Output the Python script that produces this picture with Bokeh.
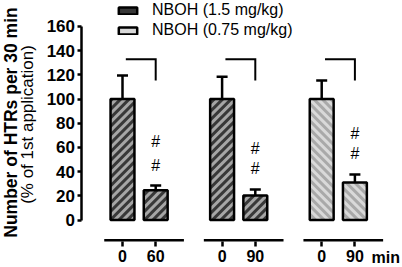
from bokeh.plotting import figure
from bokeh.models import (Range1d, FixedTicker, Legend, LegendItem,
                          Whisker, TeeHead, ColumnDataSource)
from bokeh.core.properties import value
from bokeh.embed import file_html
from bokeh.resources import INLINE
import math

# ---------------- data ----------------
positions = [0, 1, 3, 4, 6, 7]
tick_labels = ["0", "60", "0", "90", "0", "90"]
means = [100, 24.5, 100, 20.3, 100, 31.0]
sems = [19.5, 4.1, 18.5, 4.9, 15.3, 6.6]
doses = ["NBOH (1.5 mg/kg)"] * 4 + ["NBOH (0.75 mg/kg)"] * 2
dose_order = ["NBOH (1.5 mg/kg)", "NBOH (0.75 mg/kg)"]
y_ticks = [0, 20, 40, 60, 80, 100, 120, 140, 160]
unit_label = "min"
y_label_1 = "Number of HTRs per 30 min"
y_label_2 = "(% of 1st application)"
# pairs compared (first bar, second bar) and significance marks
pairs = [(0, 1), (3, 4), (6, 7)]
sig_y = [[45, 65], [42.6, 59.1], [55, 71.5]]
bracket_top = 133
bracket_low = 115.3

FONT = "Liberation Sans"
W, H = 402, 267
PX_Y = 1.2094   # pixels per y unit
PX_X = 33.2     # pixels per x unit
X0_PX = 122     # pixel of x = 0
Y0_PX = 219.5   # pixel of y = 0
BAR_W = 0.72


def xd(px):
    return (px - X0_PX) / PX_X


def yd(py):
    return (Y0_PX - py) / PX_Y


def clip_half(poly, g):
    out = []
    n = len(poly)
    for k in range(n):
        a, b = poly[k], poly[(k + 1) % n]
        ga, gb = g(a), g(b)
        if ga >= 0:
            out.append(a)
        if ga * gb < 0:
            t = ga / (ga - gb)
            out.append((a[0] + (b[0] - a[0]) * t, a[1] + (b[1] - a[1]) * t))
    return out


def stripes(x, top, direction, period=8.5, width=3.0):
    """diagonal stripe polygons inside a bar, computed in screen pixels"""
    xl = X0_PX + (x - BAR_W / 2) * PX_X
    xr = X0_PX + (x + BAR_W / 2) * PX_X
    yt = Y0_PX - top * PX_Y
    yb = Y0_PX
    rect = [(xl, yt), (xr, yt), (xr, yb), (xl, yb)]
    if direction == "/":
        f = lambda q: q[0] + q[1]
    else:
        f = lambda q: q[0] - q[1]
    vals = [f(q) for q in rect]
    lo, hi = min(vals), max(vals)
    bw = width * math.sqrt(2)
    xs, ys = [], []
    c = math.floor(lo / period) * period
    while c < hi:
        poly = clip_half(rect, lambda q, c=c: f(q) - c)
        poly = clip_half(poly, lambda q, c=c: c + bw - f(q)) if poly else []
        if len(poly) >= 3:
            xs.append([xd(q[0]) for q in poly])
            ys.append([yd(q[1]) for q in poly])
        c += period
    return xs, ys


p = figure(width=W, height=H, output_backend="svg", toolbar_location=None,
           x_range=Range1d(xd(0), xd(W)), y_range=Range1d(yd(H), yd(0)),
           min_border=0)
p.outline_line_color = None
p.grid.visible = False
p.background_fill_color = "white"
p.border_fill_color = "white"

# bars
styles = {
    "NBOH (1.5 mg/kg)": dict(fill="#383838", stripe="#a6a6a6", dir="/"),
    "NBOH (0.75 mg/kg)": dict(fill="#d9d9d9", stripe="#a9a9a9", dir="\\"),
}
items = []
for dose in dose_order:
    idx = [i for i, d in enumerate(doses) if d == dose]
    st = styles[dose]
    src = ColumnDataSource(dict(x=[positions[i] for i in idx], top=[means[i] for i in idx]))
    r0 = p.vbar(x="x", top="top", bottom=0, width=BAR_W, source=src,
                fill_color=st["fill"], line_color=None)
    sx, sy = [], []
    for i in idx:
        a, b = stripes(positions[i], means[i], st["dir"])
        sx += a
        sy += b
    p.patches(xs=sx, ys=sy, fill_color=st["stripe"], line_color=None)
    r1 = p.vbar(x="x", top="top", bottom=0, width=BAR_W, source=src,
                fill_alpha=0, line_color="black", line_width=2.5)
    items.append(LegendItem(label=dose, renderers=[r0, r1]))

# error bars (upper only)
esrc = ColumnDataSource(dict(x=positions, lower=means,
                             upper=[m + s for m, s in zip(means, sems)]))
wh = Whisker(base="x", lower="lower", upper="upper", source=esrc, dimension="height",
             line_width=2.5, line_color="black",
             upper_head=TeeHead(size=11, line_width=2.5, line_color="black"),
             lower_head=None)
p.add_layout(wh)

# brackets and significance marks
for (a, b), ys in zip(pairs, sig_y):
    p.line(x=[a + 0.1, b, b], y=[bracket_top, bracket_top, bracket_low],
           line_color="black", line_width=2, line_join="miter")
    p.text(x=[b] * len(ys), y=ys, text=["#"] * len(ys), text_font=value(FONT),
           text_font_size="16px", text_align="center", text_baseline="middle",
           text_color="black")

# bottom axis segments (one per pair)
yline = yd(239.8)
p.segment(x0=[a - 0.55 for a, b in pairs], x1=[b + 0.85 for a, b in pairs],
          y0=yline, y1=yline, line_color="black", line_width=2.5)

# x axis (ticks + labels only), fixed inside the frame
xa = p.xaxis[0]
xa.fixed_location = yd(241)
xa.ticker = FixedTicker(ticks=positions)
xa.major_label_overrides = {pos: lab for pos, lab in zip(positions, tick_labels)}
xa.axis_line_color = None
xa.major_tick_out = 5
xa.major_tick_in = 0
xa.major_tick_line_width = 2.5
xa.minor_tick_line_color = None
xa.major_label_text_font = FONT
xa.major_label_text_font_style = "bold"
xa.major_label_text_font_size = "16px"
xa.major_label_text_color = "black"
xa.major_label_standoff = 3

p.text(x=[positions[-1] + 0.5], y=[yd(257)], text=[unit_label], text_font=value(FONT),
       text_font_style="bold", text_font_size="16px", text_baseline="middle",
       text_align="left", text_color="black")

# y axis, fixed at the left edge of the bars area
ya = p.yaxis[0]
ya.fixed_location = xd(80.5)
ya.ticker = FixedTicker(ticks=y_ticks)
ya.bounds = (0, 160)
ya.axis_line_width = 2.5
ya.major_tick_out = 4
ya.major_tick_in = 0
ya.major_tick_line_width = 2.5
ya.minor_tick_line_color = None
ya.major_label_text_font = FONT
ya.major_label_text_font_style = "bold"
ya.major_label_text_font_size = "17px"
ya.major_label_text_color = "black"
ya.major_label_standoff = 2

# y axis titles (two lines, different weights)
p.text(x=[xd(10)], y=[yd(122)], text=[y_label_1], angle=math.pi / 2,
       text_font=value(FONT), text_font_style="bold", text_font_size="17.5px",
       text_align="center", text_baseline="middle", text_color="black")
p.text(x=[xd(27)], y=[yd(124)], text=[y_label_2], angle=math.pi / 2,
       text_font=value(FONT), text_font_style="normal", text_font_size="17px",
       text_align="center", text_baseline="middle", text_color="black")

legend = Legend(items=items, location=(116, 228), orientation="vertical",
                label_text_font=FONT, label_text_font_size="16px",
                label_text_color="black", glyph_width=23, glyph_height=9,
                label_height=18, label_standoff=13, spacing=2, padding=0, margin=0,
                border_line_color=None, background_fill_alpha=0)
p.add_layout(legend)

open("out.html", "w").write(file_html(p, INLINE))
